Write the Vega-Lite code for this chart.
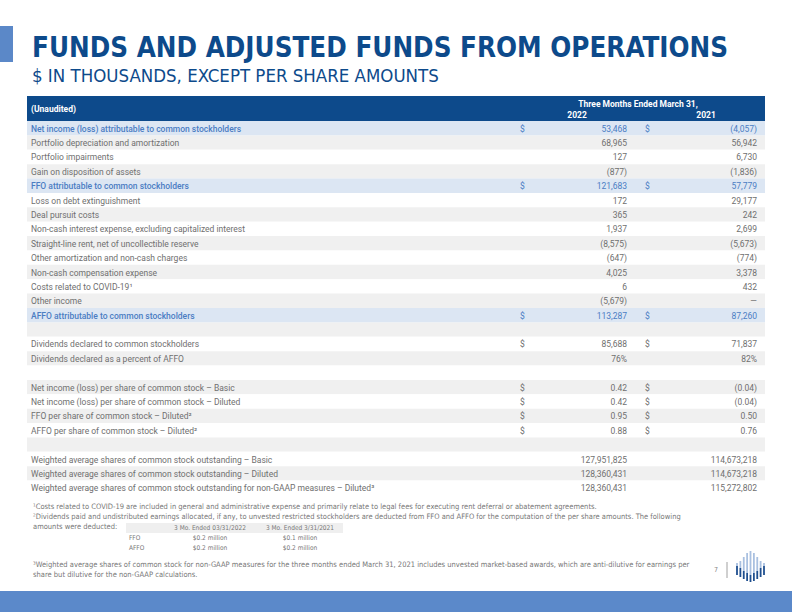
{
  "$schema": "https://vega.github.io/schema/vega-lite/v6.json",
  "width": 792,
  "height": 612,
  "autosize": {"type": "fit", "contains": "padding"},
  "padding": 0,
  "background": "#ffffff",
  "config": {"view": {"stroke": null}, "text": {"font": "Roboto"}},
  "datasets": {
    "rows": [
      {"r": 1, "label": "Net income (loss) attributable to common stockholders", "d22": "$", "v22": "53,468", "d21": "$", "v21": "(4,057)", "shade": "hl"},
      {"r": 2, "label": "Portfolio depreciation and amortization", "d22": "", "v22": "68,965", "d21": "", "v21": "56,942", "shade": "band"},
      {"r": 3, "label": "Portfolio impairments", "d22": "", "v22": "127", "d21": "", "v21": "6,730", "shade": "plain"},
      {"r": 4, "label": "Gain on disposition of assets", "d22": "", "v22": "(877)", "d21": "", "v21": "(1,836)", "shade": "band"},
      {"r": 5, "label": "FFO attributable to common stockholders", "d22": "$", "v22": "121,683", "d21": "$", "v21": "57,779", "shade": "hl"},
      {"r": 6, "label": "Loss on debt extinguishment", "d22": "", "v22": "172", "d21": "", "v21": "29,177", "shade": "plain"},
      {"r": 7, "label": "Deal pursuit costs", "d22": "", "v22": "365", "d21": "", "v21": "242", "shade": "band"},
      {"r": 8, "label": "Non-cash interest expense, excluding capitalized interest", "d22": "", "v22": "1,937", "d21": "", "v21": "2,699", "shade": "plain"},
      {"r": 9, "label": "Straight-line rent, net of uncollectible reserve", "d22": "", "v22": "(8,575)", "d21": "", "v21": "(5,673)", "shade": "band"},
      {"r": 10, "label": "Other amortization and non-cash charges", "d22": "", "v22": "(647)", "d21": "", "v21": "(774)", "shade": "plain"},
      {"r": 11, "label": "Non-cash compensation expense", "d22": "", "v22": "4,025", "d21": "", "v21": "3,378", "shade": "band"},
      {"r": 12, "label": "Costs related to COVID-19¹", "d22": "", "v22": "6", "d21": "", "v21": "432", "shade": "plain"},
      {"r": 13, "label": "Other income", "d22": "", "v22": "(5,679)", "d21": "", "v21": "—", "shade": "band"},
      {"r": 14, "label": "AFFO attributable to common stockholders", "d22": "$", "v22": "113,287", "d21": "$", "v21": "87,260", "shade": "hl"},
      {"r": 15, "label": "", "d22": "", "v22": "", "d21": "", "v21": "", "shade": "band"},
      {"r": 16, "label": "Dividends declared to common stockholders", "d22": "$", "v22": "85,688", "d21": "$", "v21": "71,837", "shade": "plain"},
      {"r": 17, "label": "Dividends declared as a percent of AFFO", "d22": "", "v22": "76%", "d21": "", "v21": "82%", "shade": "band"},
      {"r": 18, "label": "", "d22": "", "v22": "", "d21": "", "v21": "", "shade": "plain"},
      {"r": 19, "label": "Net income (loss) per share of common stock – Basic", "d22": "$", "v22": "0.42", "d21": "$", "v21": "(0.04)", "shade": "band"},
      {"r": 20, "label": "Net income (loss) per share of common stock – Diluted", "d22": "$", "v22": "0.42", "d21": "$", "v21": "(0.04)", "shade": "plain"},
      {"r": 21, "label": "FFO per share of common stock – Diluted²", "d22": "$", "v22": "0.95", "d21": "$", "v21": "0.50", "shade": "band"},
      {"r": 22, "label": "AFFO per share of common stock – Diluted²", "d22": "$", "v22": "0.88", "d21": "$", "v21": "0.76", "shade": "plain"},
      {"r": 23, "label": "", "d22": "", "v22": "", "d21": "", "v21": "", "shade": "band"},
      {"r": 24, "label": "Weighted average shares of common stock outstanding – Basic", "d22": "", "v22": "127,951,825", "d21": "", "v21": "114,673,218", "shade": "plain"},
      {"r": 25, "label": "Weighted average shares of common stock outstanding – Diluted", "d22": "", "v22": "128,360,431", "d21": "", "v21": "114,673,218", "shade": "band"},
      {"r": 26, "label": "Weighted average shares of common stock outstanding for non-GAAP measures – Diluted³", "d22": "", "v22": "128,360,431", "d21": "", "v21": "115,272,802", "shade": "plain"}
    ],
    "deducted": [
      {"item": "hdr", "name": "", "q22": "3 Mo. Ended 03/31/2022", "q21": "3 Mo. Ended 3/31/2021"},
      {"item": "FFO", "name": "FFO", "q22": "$0.2 million", "q21": "$0.1 million"},
      {"item": "AFFO", "name": "AFFO", "q22": "$0.2 million", "q21": "$0.2 million"}
    ],
    "logo": [
      {"bar": 1, "base": 7, "mid": 16, "top": 19},
      {"bar": 2, "base": 5, "mid": 14, "top": 21},
      {"bar": 3, "base": 3, "mid": 11, "top": 25},
      {"bar": 4, "base": 1, "mid": 9, "top": 29},
      {"bar": 5, "base": 0, "mid": 7, "top": 31},
      {"bar": 6, "base": 1, "mid": 9, "top": 29},
      {"bar": 7, "base": 3, "mid": 11, "top": 25},
      {"bar": 8, "base": 5, "mid": 14, "top": 21},
      {"bar": 9, "base": 7, "mid": 16, "top": 19}
    ]
  },
  "resolve": {"scale": {"x": "independent", "y": "independent"}},
  "layer": [
    {
      "data": {"values": [{"page": 1}]},
      "encoding": {
        "x": {"datum": 0, "type": "quantitative", "scale": {"domain": [0, 792], "range": [0, 792], "nice": false, "zero": false}, "axis": null},
        "y": {"datum": 0, "type": "quantitative", "scale": {"domain": [0, 612], "range": [0, 612], "nice": false, "zero": false}, "axis": null}
      },
      "layer": [
        {"mark": {"type": "rect", "color": "#5b88c8"}, "encoding": {"x": {"datum": 0}, "x2": {"datum": 13}, "y": {"datum": 26}, "y2": {"datum": 62}}},
        {"mark": {"type": "text", "text": "FUNDS AND ADJUSTED FUNDS FROM OPERATIONS", "font": "DejaVu Sans Condensed, Roboto", "fontWeight": "bold", "fontSize": 27.5, "color": "#0d4a8b", "align": "left", "baseline": "alphabetic"}, "encoding": {"x": {"datum": 32}, "y": {"datum": 57}}},
        {"mark": {"type": "text", "text": "$ IN THOUSANDS, EXCEPT PER SHARE AMOUNTS", "font": "DejaVu Sans Condensed, Roboto", "fontSize": 18.5, "color": "#0d4a8b", "align": "left", "baseline": "alphabetic"}, "encoding": {"x": {"datum": 32}, "y": {"datum": 82}}},
        {"mark": {"type": "rect", "color": "#0d4a8b"}, "encoding": {"x": {"datum": 27}, "x2": {"datum": 765}, "y": {"datum": 96}, "y2": {"datum": 121}}},
        {"mark": {"type": "text", "text": "(Unaudited)", "fontSize": 8.5, "fontWeight": "bold", "color": "#ffffff", "align": "left", "baseline": "middle"}, "encoding": {"x": {"datum": 31}, "y": {"datum": 109}}},
        {"mark": {"type": "text", "text": "Three Months Ended March 31,", "fontSize": 8.5, "fontWeight": "bold", "color": "#ffffff", "align": "center", "baseline": "middle"}, "encoding": {"x": {"datum": 638}, "y": {"datum": 104}}},
        {"mark": {"type": "text", "text": "2022", "fontSize": 8.5, "fontWeight": "bold", "color": "#ffffff", "align": "center", "baseline": "middle"}, "encoding": {"x": {"datum": 577}, "y": {"datum": 115}}},
        {"mark": {"type": "text", "text": "2021", "fontSize": 8.5, "fontWeight": "bold", "color": "#ffffff", "align": "center", "baseline": "middle"}, "encoding": {"x": {"datum": 706}, "y": {"datum": 115}}},
        {"mark": {"type": "text", "text": ["¹Costs related to COVID-19 are included in general and administrative expense and primarily relate to legal fees for executing rent deferral or abatement agreements.", "²Dividends paid and undistributed earnings allocated, if any, to unvested restricted stockholders are deducted from FFO and AFFO for the computation of the per share amounts. The following", "amounts were deducted:"], "font": "DejaVu Sans Condensed, Roboto", "fontSize": 7.5, "lineHeight": 10, "color": "#777777", "align": "left", "baseline": "middle"}, "encoding": {"x": {"datum": 33}, "y": {"datum": 507}}},
        {"mark": {"type": "text", "text": ["³Weighted average shares of common stock for non-GAAP measures for the three months ended March 31, 2021 includes unvested market-based awards, which are anti-dilutive for earnings per", "share but dilutive for the non-GAAP calculations."], "font": "DejaVu Sans Condensed, Roboto", "fontSize": 7.5, "lineHeight": 10, "color": "#777777", "align": "left", "baseline": "middle"}, "encoding": {"x": {"datum": 33}, "y": {"datum": 565}}},
        {"mark": {"type": "text", "text": "7", "font": "DejaVu Sans Condensed, Roboto", "fontSize": 7, "color": "#888888", "align": "center", "baseline": "middle"}, "encoding": {"x": {"datum": 716}, "y": {"datum": 570}}},
        {"mark": {"type": "rule", "color": "#888888", "strokeWidth": 0.8}, "encoding": {"x": {"datum": 727}, "y": {"datum": 562}, "y2": {"datum": 578}}},
        {"mark": {"type": "rect", "color": "#5b89ca"}, "encoding": {"x": {"datum": 0}, "x2": {"datum": 792}, "y": {"datum": 591}, "y2": {"datum": 612}}}
      ]
    },
    {
      "data": {"name": "rows"},
      "encoding": {
        "y": {"field": "r", "type": "ordinal", "scale": {"type": "band", "range": [121, 495], "paddingInner": 0, "paddingOuter": 0}, "axis": null}
      },
      "layer": [
        {"mark": {"type": "rect"}, "encoding": {
          "x": {"datum": 27, "type": "quantitative", "scale": {"domain": [0, 792], "range": [0, 792], "nice": false, "zero": false}, "axis": null},
          "x2": {"datum": 765},
          "color": {"field": "shade", "type": "nominal", "scale": {"domain": ["hl", "band", "plain"], "range": ["#dce6f3", "#f0f0f0", "#ffffff"]}, "legend": null}
        }},
        {"transform": [{"filter": "datum.shade !== 'hl'"}], "mark": {"type": "text", "fontSize": 8.5, "color": "#6f6f6f", "align": "left", "baseline": "middle", "dy": 0.5}, "encoding": {"x": {"datum": 31, "type": "quantitative"}, "text": {"field": "label"}}},
        {"transform": [{"filter": "datum.shade === 'hl'"}], "mark": {"type": "text", "fontSize": 8.5, "fontWeight": 500, "color": "#4b7dc3", "align": "left", "baseline": "middle", "dy": 0.5}, "encoding": {"x": {"datum": 31, "type": "quantitative"}, "text": {"field": "label"}}},
        {"mark": {"type": "text", "fontSize": 8.5, "align": "left", "baseline": "middle", "dy": 0.5}, "encoding": {"x": {"datum": 520, "type": "quantitative"}, "text": {"field": "d22"}, "color": {"condition": {"test": "datum.shade === 'hl'", "value": "#4b7dc3"}, "value": "#6f6f6f"}}},
        {"mark": {"type": "text", "fontSize": 8.5, "align": "right", "baseline": "middle", "dy": 0.5}, "encoding": {"x": {"datum": 627, "type": "quantitative"}, "text": {"field": "v22"}, "color": {"condition": {"test": "datum.shade === 'hl'", "value": "#4b7dc3"}, "value": "#6f6f6f"}}},
        {"mark": {"type": "text", "fontSize": 8.5, "align": "left", "baseline": "middle", "dy": 0.5}, "encoding": {"x": {"datum": 645, "type": "quantitative"}, "text": {"field": "d21"}, "color": {"condition": {"test": "datum.shade === 'hl'", "value": "#4b7dc3"}, "value": "#6f6f6f"}}},
        {"mark": {"type": "text", "fontSize": 8.5, "align": "right", "baseline": "middle", "dy": 0.5}, "encoding": {"x": {"datum": 757, "type": "quantitative"}, "text": {"field": "v21"}, "color": {"condition": {"test": "datum.shade === 'hl'", "value": "#4b7dc3"}, "value": "#6f6f6f"}}}
      ]
    },
    {
      "data": {"name": "deducted"},
      "encoding": {
        "y": {"field": "item", "type": "ordinal", "sort": ["hdr", "FFO", "AFFO"], "scale": {"type": "band", "range": [523, 553], "paddingInner": 0, "paddingOuter": 0}, "axis": null}
      },
      "layer": [
        {"transform": [{"filter": "datum.item === 'hdr'"}], "mark": {"type": "rect", "color": "#efefef"}, "encoding": {
          "x": {"datum": 126, "type": "quantitative", "scale": {"domain": [0, 792], "range": [0, 792], "nice": false, "zero": false}, "axis": null},
          "x2": {"datum": 343}
        }},
        {"mark": {"type": "text", "font": "DejaVu Sans Condensed, Roboto", "fontSize": 6.5, "color": "#777777", "align": "left", "baseline": "middle"}, "encoding": {"x": {"datum": 129, "type": "quantitative"}, "text": {"field": "name"}}},
        {"mark": {"type": "text", "font": "DejaVu Sans Condensed, Roboto", "fontSize": 6.5, "color": "#777777", "align": "center", "baseline": "middle"}, "encoding": {"x": {"datum": 210, "type": "quantitative"}, "text": {"field": "q22"}}},
        {"mark": {"type": "text", "font": "DejaVu Sans Condensed, Roboto", "fontSize": 6.5, "color": "#777777", "align": "center", "baseline": "middle"}, "encoding": {"x": {"datum": 300, "type": "quantitative"}, "text": {"field": "q21"}}}
      ]
    },
    {
      "data": {"name": "logo"},
      "encoding": {
        "x": {"field": "bar", "type": "ordinal", "scale": {"type": "point", "range": [737, 764], "padding": 0}, "axis": null},
        "y": {"field": "base", "type": "quantitative", "scale": {"domain": [0, 31], "range": [582, 551], "nice": false, "zero": false}, "axis": null}
      },
      "layer": [
        {"mark": {"type": "rule", "color": "#a9c0e0", "strokeWidth": 1.8}, "encoding": {"y": {"field": "mid", "type": "quantitative"}, "y2": {"field": "top"}}},
        {"mark": {"type": "rule", "color": "#1f4f8f", "strokeWidth": 1.8}, "encoding": {"y": {"field": "base", "type": "quantitative"}, "y2": {"field": "mid"}}}
      ]
    }
  ]
}
